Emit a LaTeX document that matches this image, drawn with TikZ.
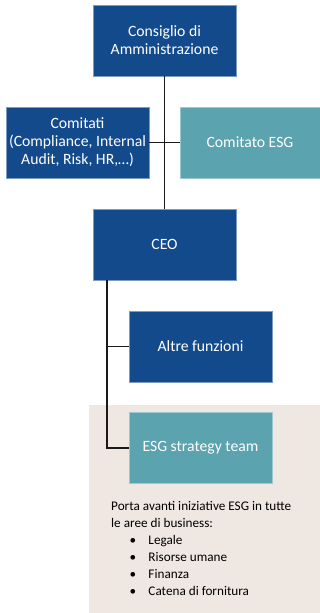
\documentclass[tikz,border=0pt]{standalone}
\usepackage{fontspec}
\setmainfont{Carlito}
\definecolor{darkblue}{HTML}{124A8C}
\definecolor{tealc}{HTML}{5BA3AE}
\definecolor{beige}{HTML}{EFE8E2}
\newcommand{\bulletline}[1]{\makebox[37.3pt][l]{\hspace{18.3pt}\textbullet}#1}
\begin{document}
\begin{tikzpicture}[x=1pt,y=-1pt,
  box/.style={rectangle, fill=darkblue, draw=darkblue!55!white, line width=0.7pt,
    minimum width=143pt, minimum height=71pt, inner sep=0pt, text=white,
    font=\fontsize{15.7}{18}\selectfont, align=center},
  tealbox/.style={box, fill=tealc, draw=tealc!60!white},
  conn/.style={draw=black!90, line width=1.3pt}]
\useasboundingbox (0,0) rectangle (320,613);
\fill[beige] (89,405) rectangle (320,613);
\node[box] (board) at (164.5,40.5) {Consiglio di\\Amministrazione};
\node[box] (comitati) at (77.5,142.5) {Comitati\\(Compliance, Internal\\Audit, Risk, HR,…)};
\node[tealbox, minimum width=140pt] (cesg) at (250,142.5) {Comitato ESG};
\node[box] (ceo) at (164.5,244.5) {CEO};
\node[box] (altre) at (200.5,346.5) {Altre funzioni};
\node[tealbox] (team) at (200.5,448) {ESG strategy team};
\coordinate (ceoout) at (107,280);
\draw[conn] (board.south) -- (ceo.north);
\draw[conn] (comitati.east) -- (cesg.west);
\draw[conn] (ceoout) |- (team.west);
\draw[conn] (ceoout |- altre.west) -- (altre.west);
\node[anchor=north west, inner sep=0pt, align=left, font=\fontsize{13.2}{17}\selectfont] (desc) at (111,500.8)
 {Porta avanti iniziative ESG in tutte\\
  le aree di business:\\
  \bulletline{Legale}\\
  \bulletline{Risorse umane}\\
  \bulletline{Finanza}\\
  \bulletline{Catena di fornitura}};
\end{tikzpicture}
\end{document}
